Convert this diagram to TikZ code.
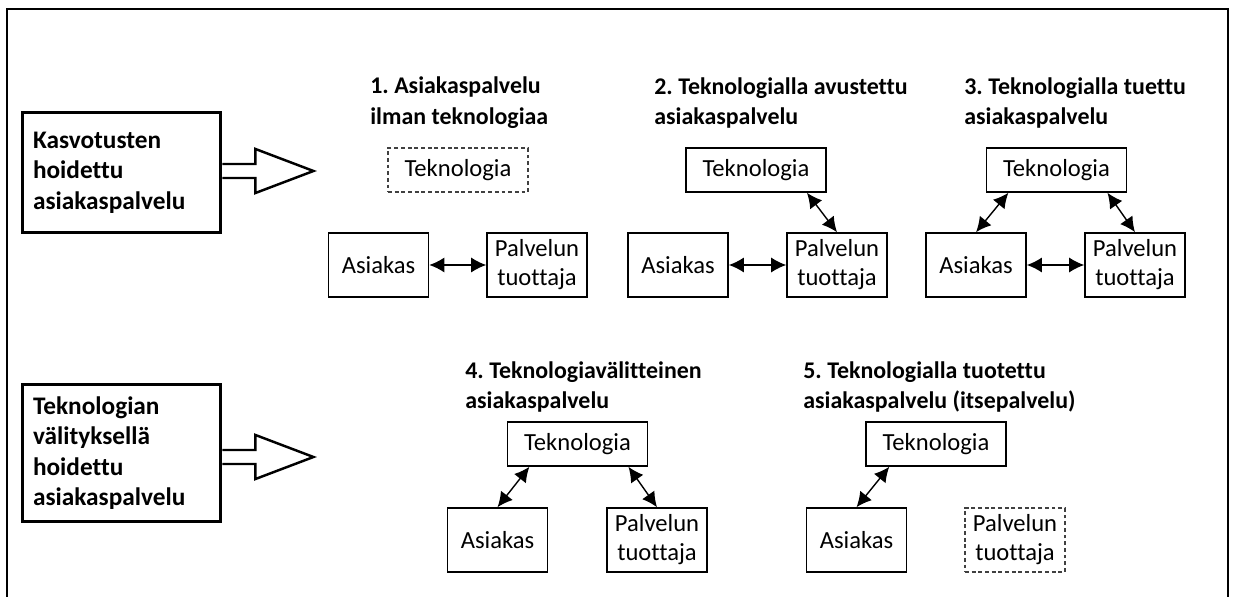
\documentclass[tikz,border=0pt]{standalone}
\usepackage{fontspec}
\setmainfont{Carlito}[Ligatures=NoCommon]
\usetikzlibrary{arrows.meta,calc}
\frenchspacing

\tikzset{
  laatikko/.style={draw, line width=0.9pt, minimum width=2cm, minimum height=1.28cm, inner sep=1pt, align=center, font=\fontsize{14}{16.5}\selectfont},
  teklaatikko/.style={laatikko, minimum width=2.8cm, minimum height=0.88cm},
  katkoviiva/.style={dash pattern=on 2.2pt off 1.6pt, draw=black!75},
  otsikko/.style={anchor=west, inner sep=0pt, align=left, font=\bfseries\fontsize{13.6}{17.5}\selectfont},
  ryhma/.style={draw, line width=1.7pt, text width=3.54cm, inner xsep=0.22cm, align=left, font=\bfseries\fontsize{14.4}{17.4}\selectfont},
  kaksinuoli/.style={{Latex[length=3mm,width=3mm]}-{Latex[length=3mm,width=3mm]}, line width=0.8pt},
  blokkinuoli/.style={draw, line width=1.4pt, line join=miter}
}

\begin{document}
\begin{tikzpicture}[x=0.02cm, y=-0.02cm]
    \useasboundingbox (0,0) rectangle (1233,597);
    % --- frame ---
    \draw[line width=0.8pt] (7,600) -- (7,9) -- (1228,9) -- (1228,600);

    % --- left: groups ---
    \node[ryhma, minimum height=2.42cm] (kasvo) at (121.5,172.5) {Kasvotusten\\hoidettu\\asiakaspalvelu};
    \node[ryhma, minimum height=2.76cm] (tekvali) at (121.5,453) {Teknologian\\välityksellä\\hoidettu\\asiakaspalvelu};

    % hollow arrows out of the groups
    \draw[blokkinuoli] ($(kasvo.east)+(0,-8.5)$) -- ++(33,0) -- ++(0,-15) -- ++(58,22) -- ++(-58,22) -- ++(0,-15) -- ++(-33,0);
    \draw[blokkinuoli] ($(tekvali.east)+(0,-3)$) -- ++(33,0) -- ++(0,-15) -- ++(58,22) -- ++(-58,22) -- ++(0,-15) -- ++(-33,0);

    % --- 1. ilman teknologiaa ---
    \node[otsikko] (otsikko1) at (370,103) {1. Asiakaspalvelu\\ilman teknologiaa};
    \node[teklaatikko, katkoviiva] (tek1) at (458,170) {Teknologia};
    \node[laatikko] (asi1) at (378.5,265) {Asiakas};
    \node[laatikko] (pal1) at (537,265) {Palvelun\\tuottaja};
    \draw[kaksinuoli] (asi1) -- (pal1);

    % --- 2. avustettu ---
    \node[otsikko] (otsikko2) at (654,103) {2. Teknologialla avustettu\\asiakaspalvelu};
    \node[teklaatikko] (tek2) at (756,170) {Teknologia};
    \node[laatikko] (asi2) at (678,265) {Asiakas};
    \node[laatikko] (pal2) at (837,265) {Palvelun\\tuottaja};
    \draw[kaksinuoli] (asi2) -- (pal2);
    \draw[kaksinuoli] ($(tek2.south west)!0.86!(tek2.south east)$) -- (pal2.north);

    % --- 3. tuettu ---
    \node[otsikko] (otsikko3) at (964,103) {3. Teknologialla tuettu\\asiakaspalvelu};
    \node[teklaatikko] (tek3) at (1056.5,170) {Teknologia};
    \node[laatikko] (asi3) at (976,265) {Asiakas};
    \node[laatikko] (pal3) at (1135,265) {Palvelun\\tuottaja};
    \draw[kaksinuoli] (asi3) -- (pal3);
    \draw[kaksinuoli] ($(tek3.south west)!0.16!(tek3.south east)$) -- (asi3.north);
    \draw[kaksinuoli] ($(tek3.south west)!0.86!(tek3.south east)$) -- (pal3.north);

    % --- 4. teknologiavälitteinen ---
    \node[otsikko] (otsikko4) at (465,387) {4. Teknologiavälitteinen\\asiakaspalvelu};
    \node[teklaatikko] (tek4) at (577.5,444) {Teknologia};
    \node[laatikko] (asi4) at (497.5,540) {Asiakas};
    \node[laatikko] (pal4) at (657,540) {Palvelun\\tuottaja};
    \draw[kaksinuoli] ($(tek4.south west)!0.16!(tek4.south east)$) -- (asi4.north);
    \draw[kaksinuoli] ($(tek4.south west)!0.86!(tek4.south east)$) -- (pal4.north);

    % --- 5. itsepalvelu ---
    \node[otsikko] (otsikko5) at (803,387) {5. Teknologialla tuotettu\\asiakaspalvelu (itsepalvelu)};
    \node[teklaatikko] (tek5) at (936,444) {Teknologia};
    \node[laatikko] (asi5) at (856.5,540) {Asiakas};
    \node[laatikko, katkoviiva] (pal5) at (1015,540) {Palvelun\\tuottaja};
    \draw[kaksinuoli] ($(tek5.south west)!0.17!(tek5.south east)$) -- (asi5.north);
\end{tikzpicture}
\end{document}
